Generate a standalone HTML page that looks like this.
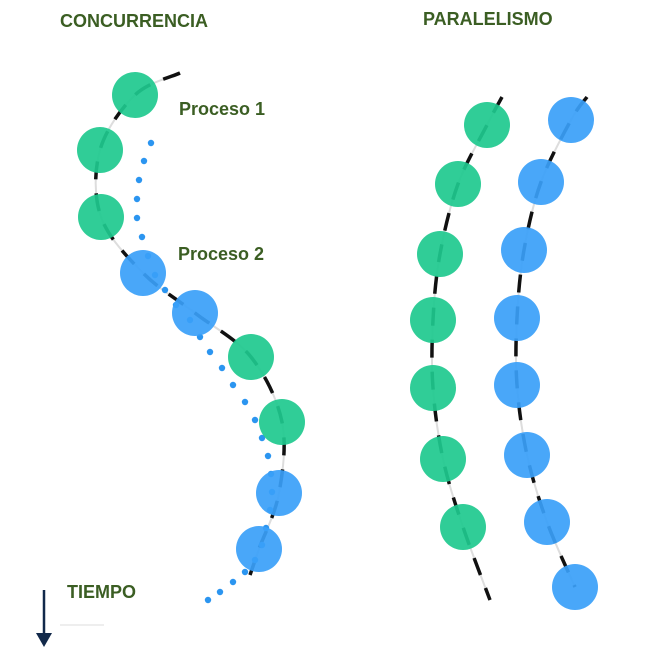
<!DOCTYPE html>
<html><head><meta charset="utf-8">
<style>
html,body{margin:0;padding:0;background:#fff;}
svg{display:block;}
text{font-family:"Liberation Sans",sans-serif;font-weight:bold;fill:#3b5e23;}
</style></head>
<body>
<svg id="chart" width="670" height="663" viewBox="0 0 670 663">
  <text x="60" y="27" font-size="18">CONCURRENCIA</text>
  <text x="423" y="25" font-size="18">PARALELISMO</text>
  <text x="179" y="115" font-size="18">Proceso 1</text>
  <text x="178" y="260" font-size="18">Proceso 2</text>
  <text x="67" y="598" font-size="18">TIEMPO</text>
  <line x1="60" y1="625" x2="104" y2="625" stroke="#eee" stroke-width="2"/>
  <line x1="44" y1="590" x2="44" y2="640" stroke="#12294a" stroke-width="2.5"/>
  <polygon points="36,633 52,633 44,647" fill="#12294a"/>
  <g id="layer"></g>
</svg>
<script>
const concGreen = [[135,95],[100,150],[101,217],[251,357],[282,422]];
const concBlue = [[143,273],[195,313],[279,493],[259,549]];
const concPath = [[180,73],[135,95],[100,150],[101,217],[143,273],[195,313],[251,357],[282,422],[279,493],[259,549],[250,575]];
const concDots = [[151,143],[144,161],[139,180],[137,199],[137,218],[142,237],[148,256],[155,275],[165,290],[176,305],[190,320],[200,337],[210,352],[222,368],[233,385],[245,402],[255,420],[262,438],[268,456],[271,474],[272,492],[270,510],[266,528],[262,545],[255,560],[245,572],[233,582],[220,592],[208,600]];
const parGreen = [[487,125],[458,184],[440,254],[433,320],[433,388],[443,459],[463,527]];
const parBlue = [[571,120],[541,182],[524,250],[517,318],[517,385],[527,455],[547,522],[575,587]];
const ns = "http://www.w3.org/2000/svg";
const layer = document.getElementById('layer');
function smooth(pts){
  let d = "M"+pts[0][0]+","+pts[0][1];
  for(let i=0;i<pts.length-1;i++){
    const p0=pts[Math.max(0,i-1)],p1=pts[i],p2=pts[i+1],p3=pts[Math.min(pts.length-1,i+2)];
    const c1=[p1[0]+(p2[0]-p0[0])/6,p1[1]+(p2[1]-p0[1])/6];
    const c2=[p2[0]-(p3[0]-p1[0])/6,p2[1]-(p3[1]-p1[1])/6];
    d+=" C"+c1[0]+","+c1[1]+" "+c2[0]+","+c2[1]+" "+p2[0]+","+p2[1];
  }
  return d;
}
function path(pts,name){
  const bg=document.createElementNS(ns,'path');
  bg.setAttribute('d',smooth(pts));bg.setAttribute('fill','none');bg.setAttribute('stroke','#ddd');bg.setAttribute('stroke-width','2');
  
  
  layer.appendChild(bg);
  const p=document.createElementNS(ns,'path');
  p.setAttribute('d',smooth(pts));p.setAttribute('fill','none');p.setAttribute('stroke','#111');p.setAttribute('stroke-width','3.5');
  p.setAttribute('stroke-dasharray','18 14');
  
  
  layer.appendChild(p);
}
function circles(arr,color,name){
  arr.forEach(function(c){
    const e=document.createElementNS(ns,'circle');
    e.setAttribute('cx',c[0]);e.setAttribute('cy',c[1]);e.setAttribute('r',23);
    e.setAttribute('fill',color);e.setAttribute('fill-opacity','0.92');
    
    
    layer.appendChild(e);
  });
}
path(concPath,'concurrency-timeline');
const gExt=[[502,97]].concat(parGreen).concat([[490,600]]);
const bExt=[[587,97]].concat(parBlue);
path(gExt,'parallel-timeline-process-1');
path(bExt,'parallel-timeline-process-2');
concDots.forEach(function(c){
  const e=document.createElementNS(ns,'circle');
  e.setAttribute('cx',c[0]);e.setAttribute('cy',c[1]);e.setAttribute('r',3.2);e.setAttribute('fill','#2b95f0');
  
  
  layer.appendChild(e);
});
circles(concGreen,'#1ec98e','concurrency-process-1-step');
circles(concBlue,'#3aa0f8','concurrency-process-2-step');
circles(parGreen,'#1ec98e','parallel-process-1-step');
circles(parBlue,'#3aa0f8','parallel-process-2-step');
</script>
</body></html>
